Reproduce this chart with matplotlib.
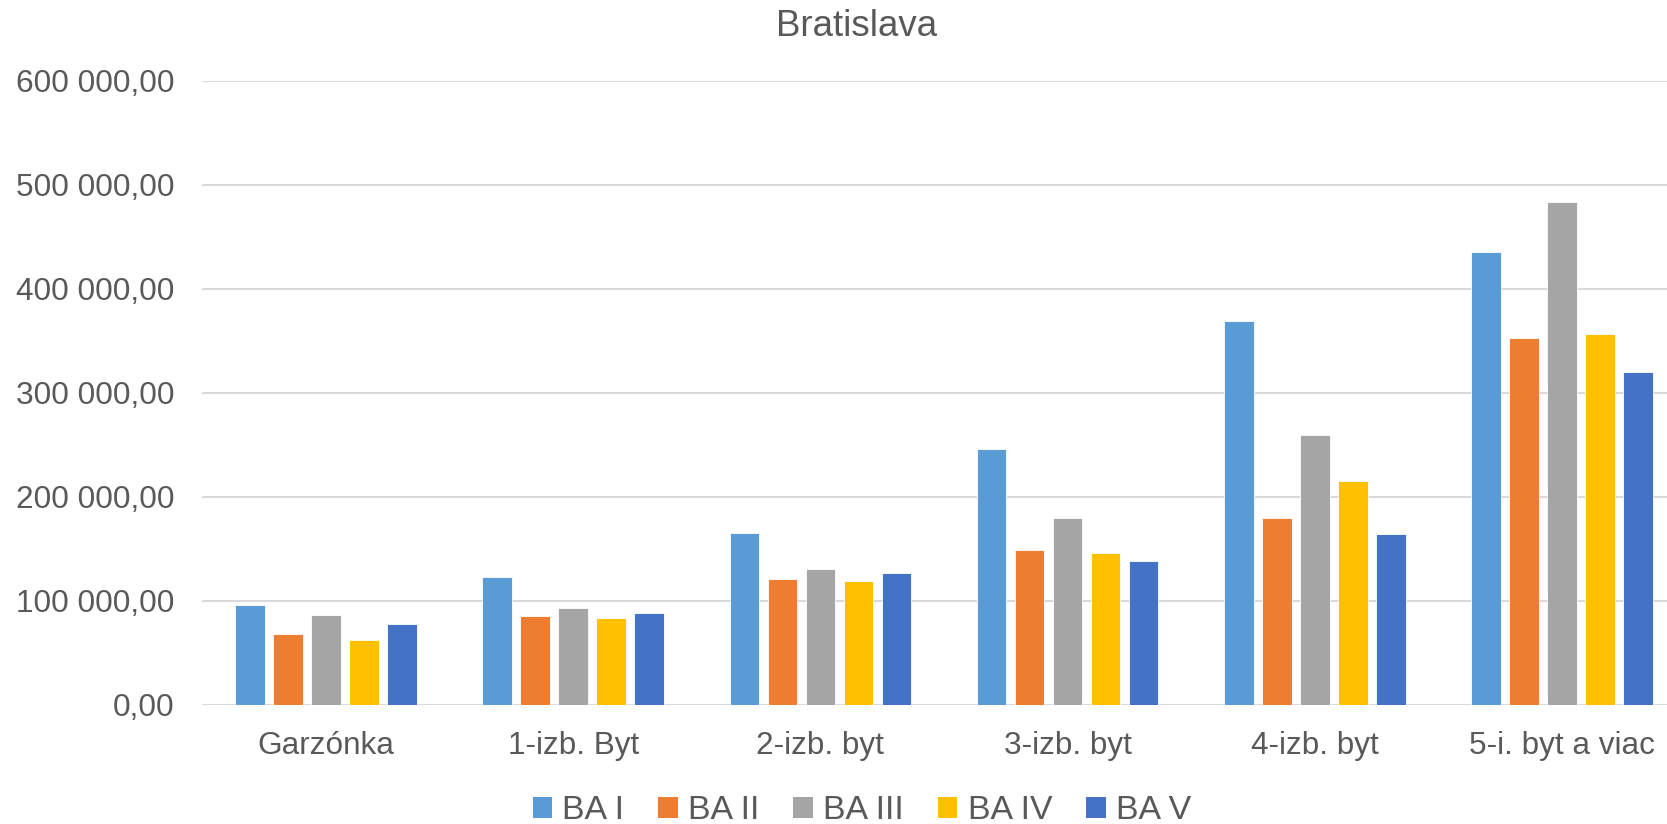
import matplotlib
matplotlib.use("Agg")
import matplotlib.pyplot as plt
import matplotlib.ticker as mticker
from matplotlib.patches import Patch
import numpy as np

# data
categories = ["Garzónka", "1-izb. Byt", "2-izb. byt", "3-izb. byt", "4-izb. byt", "5-i. byt a viac"]
series_names = ["BA I", "BA II", "BA III", "BA IV", "BA V"]
ba1 = [95700, 123000, 164700, 245500, 368900, 434800]
ba2 = [67600, 85000, 121100, 148100, 179500, 352300]
ba3 = [86000, 92800, 130400, 179800, 259600, 482800]
ba4 = [61800, 83100, 119200, 145500, 214600, 356600]
ba5 = [77300, 87900, 126900, 138100, 164200, 319900]
colors = ["#5B9BD5", "#ED7D31", "#A5A5A5", "#FFC000", "#4472C4"]

text_col = "#595959"
plt.rcParams['font.family'] = ['Liberation Sans', 'DejaVu Sans']

fig = plt.figure(figsize=(16.67, 8.24), dpi=100)
ax = fig.add_axes([0.1214, 0.145, 0.8898, 0.7573])

x = np.arange(len(categories))
pitch = 0.1537
width = 0.12
all_series = [ba1, ba2, ba3, ba4, ba5]
for i, (vals, col) in enumerate(zip(all_series, colors)):
    ax.bar(x + (i - 2) * pitch, vals, width=width, color=col,
           edgecolor="white", linewidth=0.6, zorder=3)

ax.set_xlim(-0.5, len(categories) - 0.5)
ax.set_ylim(0, 600000)
ax.set_yticks(np.arange(0, 600001, 100000))


# "600 000,00" style labels
def fmt(v, pos):
    s = f"{v:,.2f}"
    return s.replace(",", " ").replace(".", ",")


ax.yaxis.set_major_formatter(mticker.FuncFormatter(fmt))
ax.set_xticks(x)
ax.set_xticklabels(categories)
ax.grid(axis="y", color="#D9D9D9", linewidth=1.5, zorder=0)
for s in ax.spines.values():
    s.set_visible(False)
ax.tick_params(axis="both", length=0, colors=text_col, labelsize=22.7)
ax.tick_params(axis="y", pad=20)
ax.tick_params(axis="x", pad=19)

fig.text(0.514, 0.968, "Bratislava", ha="center", va="center",
         fontsize=26.4, color=text_col)

handles = [Patch(facecolor=c, edgecolor="none") for c in colors]
leg = fig.legend(handles, series_names, loc="center", bbox_to_anchor=(0.517, 0.016),
                 ncol=5, frameon=False, fontsize=24.4, handlelength=0.58,
                 handleheight=0.58, handletextpad=0.3, columnspacing=1.0,
                 borderpad=0, borderaxespad=0)
for t in leg.get_texts():
    t.set_color(text_col)

fig.savefig("out.png", dpi=100)
